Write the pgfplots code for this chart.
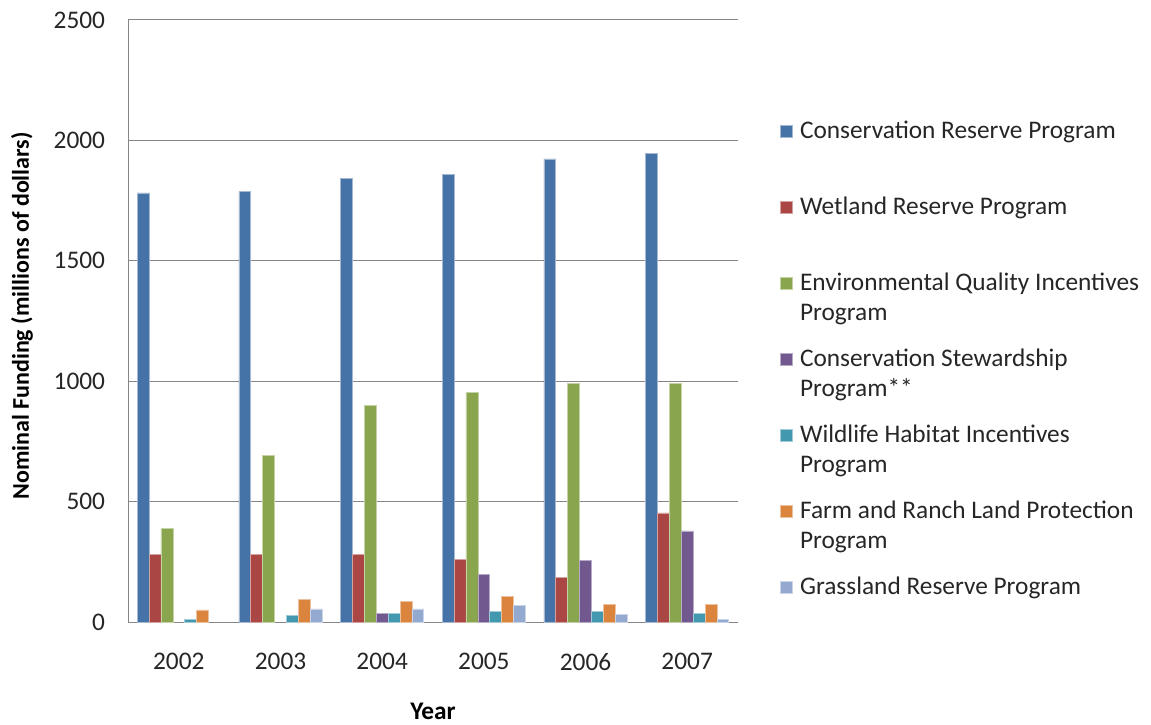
\documentclass[border=0pt]{standalone}
\usepackage{fontspec}
\setmainfont{Carlito}
\usepackage{pgfplots}
\pgfplotsset{compat=1.18}
\definecolor{c1}{HTML}{4572A7}
\definecolor{c2}{HTML}{AA4643}
\definecolor{c3}{HTML}{89A54E}
\definecolor{c4}{HTML}{71588F}
\definecolor{c5}{HTML}{4198AF}
\definecolor{c6}{HTML}{DB843D}
\definecolor{c7}{HTML}{93A9CF}
\definecolor{gridgray}{RGB}{134,134,134}
\newcommand{\lent}[1]{\parbox[b][55.5pt][t]{255pt}{\raggedright\strut #1}}
\begin{document}
\begin{tikzpicture}
\path[use as bounding box] (0,0) rectangle (863.25pt,543pt);
\begin{axis}[
  at={(96pt,76.5pt)}, anchor=south west,
  scale only axis, width=457.5pt, height=451.5pt,
  ybar=0pt, bar width=0.117,
  xmin=-0.5, xmax=5.5, ymin=0, ymax=2500,
  xtick={0,1,2,3,4,5},
  xticklabels={2002,2003,2004,2005,2006,2007},
  ytick={0,500,1000,1500,2000,2500},
  major tick length=0pt,
  ymajorgrids, grid style={color=gridgray, line width=0.75pt},
  axis x line*=bottom, axis y line*=left,
  axis line style={color=gridgray, line width=0.75pt, -},
  /pgf/number format/assume math mode=true,
  /pgf/number format/1000 sep={},
  tick label style={font=\fontsize{19}{22}\selectfont, text=black!85},
  yticklabel style={anchor=east, inner sep=0pt, xshift=-17pt},
  xticklabel style={anchor=center, inner sep=0pt, yshift=-29.8pt},
  xlabel={Year}, ylabel={Nominal Funding (millions of dollars)},
  every axis x label/.style={at={([yshift=-66.75pt]axis description cs:0.5,0)}, anchor=center, font=\bfseries\fontsize{19}{22}\selectfont},
  every axis y label/.style={at={([xshift=-79.5pt,yshift=3.75pt]axis description cs:0,0.5)}, rotate=90, anchor=center, font=\bfseries\fontsize{18}{22}\selectfont},
  legend style={at={(axis description cs:1.0689,0.8384)}, anchor=north west, draw=none, fill=none, inner sep=0pt, outer sep=0pt, row sep=0pt, column sep=5.5pt, cells={anchor=north west}, nodes={inner sep=0pt}, font=\fontsize{19}{22.5}\selectfont, text=black!85},
  every axis plot post/.append style={legend image code/.code={\fill[##1] (0pt,-15pt) rectangle (9pt,-6pt);}},
]
\addplot[fill=c1, draw=c1!50!white, line width=0.5pt] coordinates {(0,1782) (1,1787) (2,1843) (3,1860) (4,1923) (5,1945)};
\addlegendentry{\lent{Conservation Reserve Program}}
\addplot[fill=c2, draw=c2!50!white, line width=0.5pt] coordinates {(0,282) (1,282) (2,282) (3,260) (4,186) (5,453)};
\addlegendentry{\lent{Wetland Reserve Program}}
\addplot[fill=c3, draw=c3!50!white, line width=0.5pt] coordinates {(0,387) (1,692) (2,900) (3,954) (4,991) (5,991)};
\addlegendentry{\lent{Environmental Quality Incentives\\Program}}
\addplot[fill=c4, draw=c4!50!white, line width=0.5pt] coordinates {(2,36) (3,198) (4,256) (5,378)};
\addlegendentry{\lent{Conservation Stewardship\\Program**}}
\addplot[fill=c5, draw=c5!50!white, line width=0.5pt] coordinates {(0,12) (1,28) (2,36) (3,43) (4,43) (5,37)};
\addlegendentry{\lent{Wildlife Habitat Incentives\\Program}}
\addplot[fill=c6, draw=c6!50!white, line width=0.5pt] coordinates {(0,50) (1,95) (2,86) (3,107) (4,73) (5,73)};
\addlegendentry{\lent{Farm and Ranch Land Protection\\Program}}
\addplot[fill=c7, draw=c7!50!white, line width=0.5pt] coordinates {(1,54) (2,54) (3,69) (4,32) (5,11)};
\addlegendentry{\lent{Grassland Reserve Program}}
\end{axis}
\end{tikzpicture}
\end{document}
